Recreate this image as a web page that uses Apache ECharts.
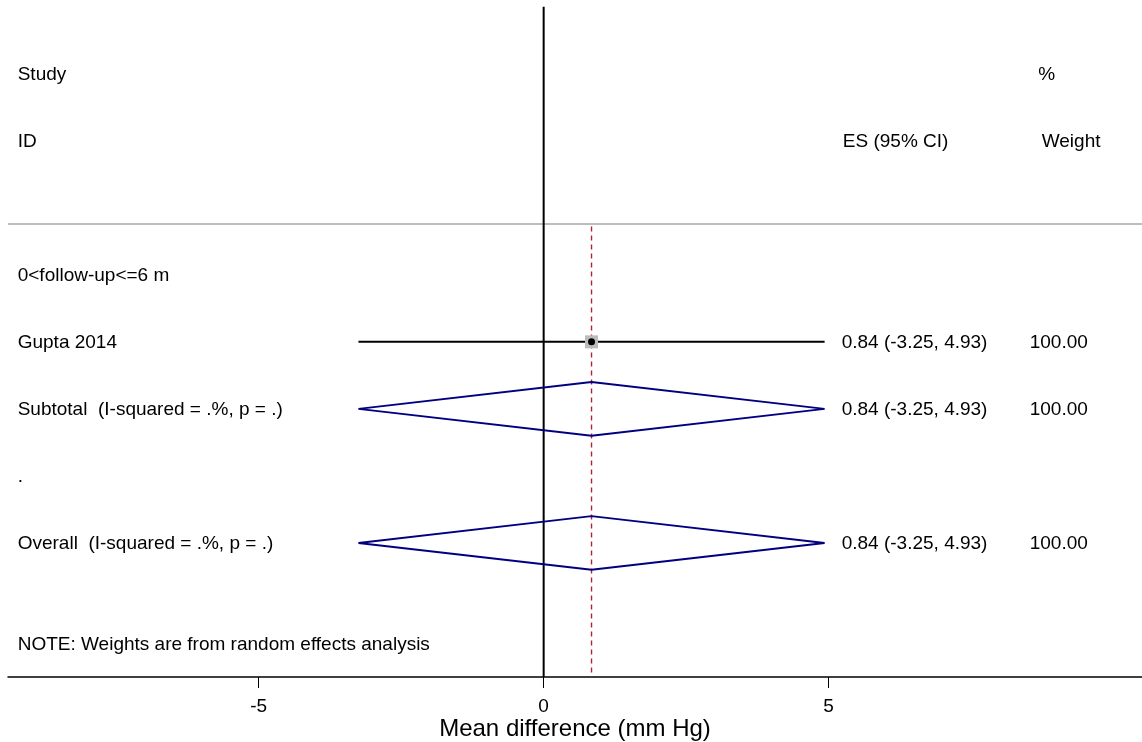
<!DOCTYPE html>
<html>
<head>
<meta charset="utf-8">
<script src="https://cdn.jsdelivr.net/npm/echarts@6/dist/echarts.min.js"></script>
<style>
html,body{margin:0;padding:0;background:#fff;}
#chart{width:1142px;height:742px;}
</style>
</head>
<body>
<div id="chart"></div>
<script>
// ---- data ----
const studyNames = ['Gupta 2014'];
const studyES = [0.84];
const studyLo = [-3.25];
const studyHi = [4.93];
const studyWeight = [100.00];
const studyRow = [5];

const poolNames = ['Subtotal  (I-squared = .%, p = .)', 'Overall  (I-squared = .%, p = .)'];
const poolES = [0.84, 0.84];
const poolLo = [-3.25, -3.25];
const poolHi = [4.93, 4.93];
const poolWeight = [100.00, 100.00];
const poolRow = [6, 8];

const otherLabels = ['Study', 'ID', '0<follow-up<=6 m', '.', 'NOTE: Weights are from random effects analysis'];
const otherRow = [1, 2, 4, 7, 9.5];

const headerLabels = ['ES (95% CI)', '%', 'Weight'];
const headerRow = [2, 1, 2];

const xTicks = [-5, 0, 5];
const overallES = 0.84;

// ---- layout constants (axis units) ----
const X_MIN = -9.4, X_MAX = 10.5;
const Y_MIN = -0.1, Y_MAX = 10;
const COL_LEFT = -9.23, COL_ES = 5.23, COL_W = 8.53;
const headerX = [5.25, 8.68, 8.74];
const SEP_ROW = 3.24;
const FONT = "'Liberation Sans', Arial, sans-serif";

const fmt = v => v.toFixed(2);

const textData = [];
otherLabels.forEach((t, i) => textData.push([COL_LEFT, otherRow[i], t]));
studyNames.forEach((t, i) => {
  textData.push([COL_LEFT, studyRow[i], t]);
  textData.push([COL_ES, studyRow[i], `${fmt(studyES[i])} (${fmt(studyLo[i])}, ${fmt(studyHi[i])})`]);
  textData.push([COL_W, studyRow[i], fmt(studyWeight[i])]);
});
poolNames.forEach((t, i) => {
  textData.push([COL_LEFT, poolRow[i], t]);
  textData.push([COL_ES, poolRow[i], `${fmt(poolES[i])} (${fmt(poolLo[i])}, ${fmt(poolHi[i])})`]);
  textData.push([COL_W, poolRow[i], fmt(poolWeight[i])]);
});
headerLabels.forEach((t, i) => textData.push([headerX[i], headerRow[i], t]));

const studyData = studyNames.map((n, i) => [studyES[i], studyRow[i], studyLo[i], studyHi[i], studyWeight[i]]);
const poolData = poolNames.map((n, i) => [poolES[i], poolRow[i], poolLo[i], poolHi[i]]);

function vline(name, pts, color, width, type, z) {
  return {
    type: 'line', name: name, data: pts, symbol: 'none', silent: true, z: z,
    lineStyle: {color: color, width: width, type: type}, emphasis: {disabled: true}
  };
}

const chart = echarts.init(document.getElementById('chart'), null, {renderer: 'canvas'});
chart.setOption({
  animation: false,
  backgroundColor: '#fff',
  grid: {left: 8, right: 0, top: 0, bottom: 65, containLabel: false, outerBoundsMode: 'none'},
  xAxis: {
    type: 'value', min: X_MIN, max: X_MAX,
    axisLine: {show: true, onZero: false, lineStyle: {color: '#000', width: 1.5}},
    axisTick: {show: true, length: 11, customValues: xTicks, lineStyle: {color: '#000', width: 1}},
    axisLabel: {customValues: xTicks, fontSize: 19, color: '#000', margin: 20, fontFamily: FONT},
    splitLine: {show: false},
    name: 'Mean difference (mm Hg)', nameLocation: 'middle', nameGap: 40, nameMoveOverlap: false,
    nameTextStyle: {fontSize: 24, color: '#000', fontFamily: FONT}
  },
  yAxis: {
    type: 'value', min: Y_MIN, max: Y_MAX, inverse: true, show: false,
    axisLine: {show: false, onZero: false}, splitLine: {show: false}
  },
  series: [
    vline('separator', [[X_MIN, SEP_ROW], [X_MAX, SEP_ROW]], '#bdbdbd', 2, 'solid', 1),
    vline('zeroLine', [[0, 0], [0, Y_MAX]], '#000', 2, 'solid', 2),
    vline('overallLine', [[overallES, SEP_ROW + 0.04], [overallES, Y_MAX]], '#b22234', 1.4, [5, 4], 3),
    {
      type: 'custom', name: 'studies', data: studyData, clip: false, silent: true, z: 4,
      encode: {x: 0, y: 1},
      renderItem: (params, api) => {
        const es = api.value(0), row = api.value(1), lo = api.value(2), hi = api.value(3), w = api.value(4);
        const pLo = api.coord([lo, row]), pHi = api.coord([hi, row]), p = api.coord([es, row]);
        const s = 13 * Math.sqrt(w / 100);
        return {
          type: 'group',
          children: [
            {type: 'line', shape: {x1: pLo[0], y1: pLo[1], x2: pHi[0], y2: pHi[1]}, style: {stroke: '#000', lineWidth: 2}},
            {type: 'rect', shape: {x: p[0] - s / 2, y: p[1] - s / 2, width: s, height: s}, style: {fill: '#bbbbbb'}},
            {type: 'circle', shape: {cx: p[0], cy: p[1], r: 3.5}, style: {fill: '#000'}}
          ]
        };
      }
    },
    {
      type: 'custom', name: 'pooled', data: poolData, clip: false, silent: true, z: 4,
      encode: {x: 0, y: 1},
      renderItem: (params, api) => {
        const es = api.value(0), row = api.value(1), lo = api.value(2), hi = api.value(3);
        const pts = [api.coord([lo, row]), api.coord([es, row - 0.4]), api.coord([hi, row]), api.coord([es, row + 0.4])];
        return {type: 'polygon', shape: {points: pts}, style: {fill: 'none', stroke: '#000080', lineWidth: 2, lineJoin: 'bevel'}};
      }
    },
    {
      type: 'custom', name: 'text', data: textData, clip: false, silent: true, z: 5,
      encode: {x: 0, y: 1},
      renderItem: (params, api) => {
        const p = api.coord([api.value(0), api.value(1)]);
        return {
          type: 'text',
          style: {
            text: textData[params.dataIndex][2],
            x: p[0], y: p[1] + 1,
            fill: '#000',
            font: "19px 'Liberation Sans', Arial, sans-serif",
            align: 'left', verticalAlign: 'middle'
          }
        };
      }
    }
  ]
});
</script>
</body>
</html>
